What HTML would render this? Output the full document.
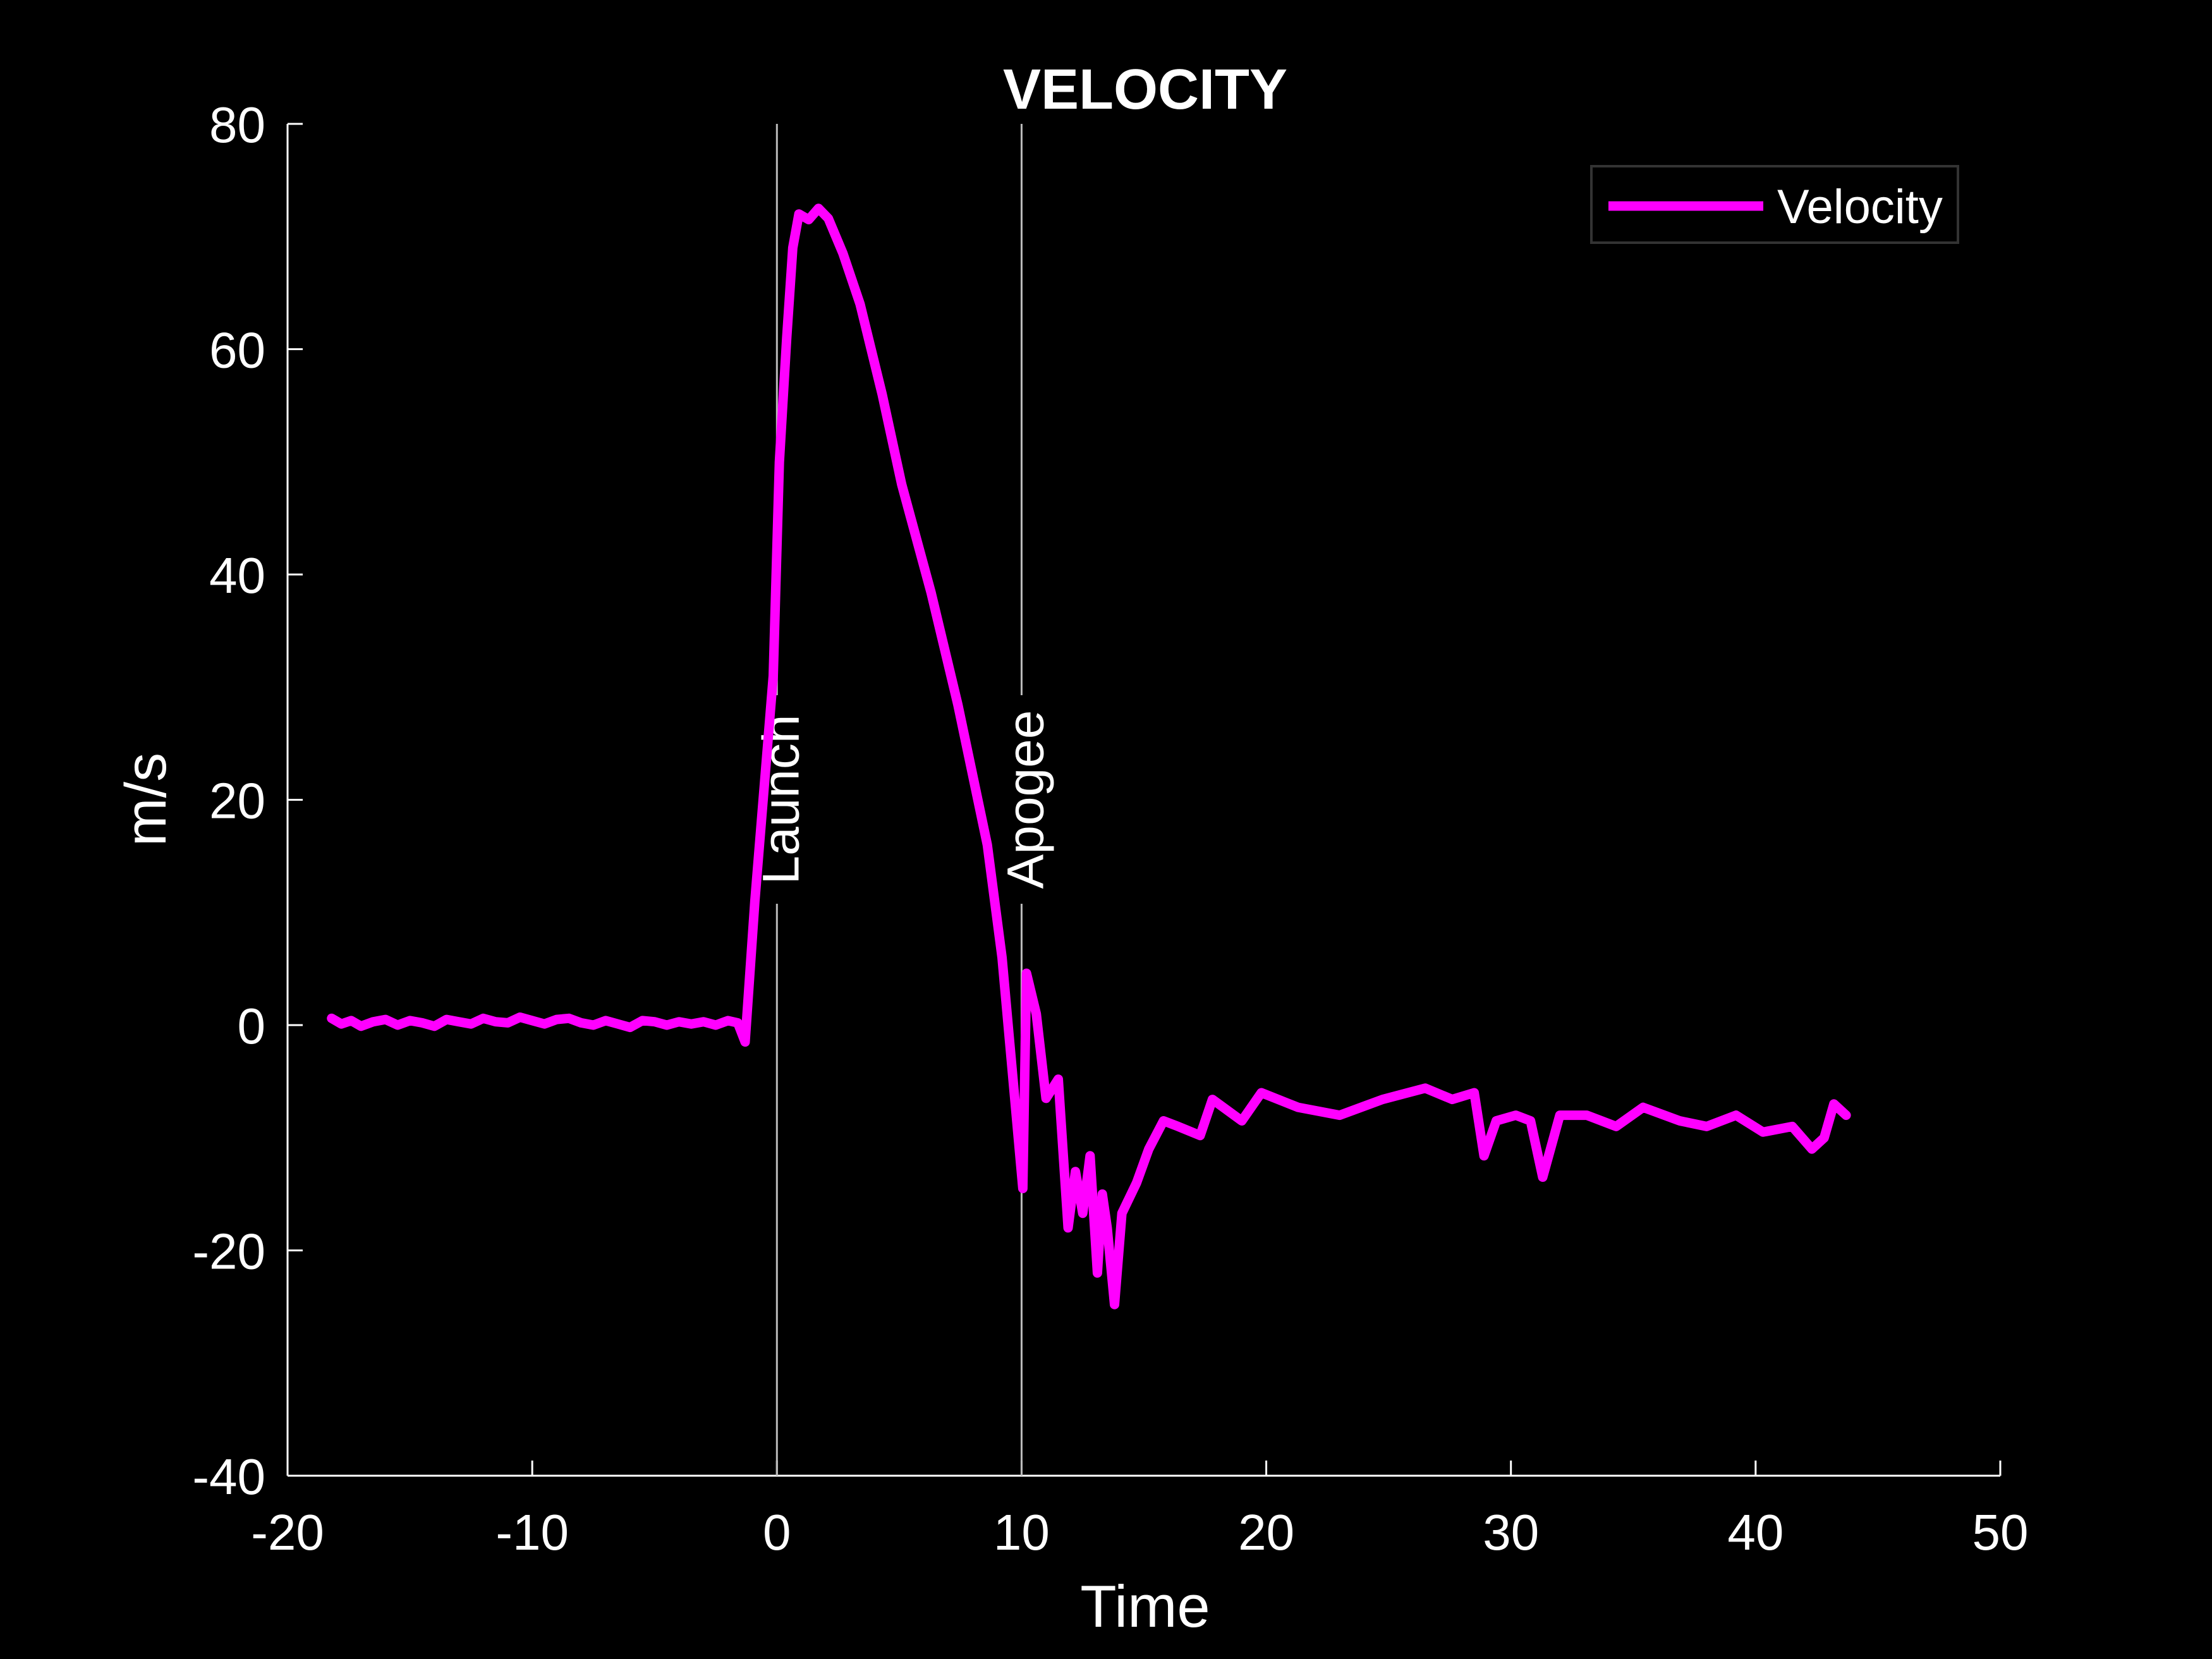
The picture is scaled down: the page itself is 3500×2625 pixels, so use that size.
<!DOCTYPE html>
<html><head><meta charset="utf-8"><style>
html,body{margin:0;padding:0;background:#000;}
svg{display:block;}
text{font-family:"Liberation Sans",sans-serif;fill:#fff;}
</style></head><body>
<svg id="chart" width="3500" height="2625" viewBox="0 0 3500 2625" xmlns="http://www.w3.org/2000/svg">
<rect width="3500" height="2625" fill="#000"/>
<text x="1812" y="172" font-size="90" font-weight="bold" text-anchor="middle">VELOCITY</text>
<g id="axes"></g>
<g id="events"></g>
<g id="series"></g>
<text x="1812" y="2574" font-size="94" text-anchor="middle">Time</text>
<text transform="translate(262,1265) rotate(-90)" font-size="92" text-anchor="middle">m/s</text>
<g>
<rect x="2518" y="263" width="580" height="121" fill="#000" stroke="#333" stroke-width="4"/>
<line x1="2545" y1="326" x2="2790" y2="326" stroke="#ff00ff" stroke-width="15"/>
<text x="2812" y="353" font-size="76">Velocity</text>
</g>
</svg>
<script>
const xTicks=[-20,-10,0,10,20,30,40,50];
const yTicks=[-40,-20,0,20,40,60,80];
const eventTimes=[0,10];
const eventLabels=["Launch","Apogee"];
const times=[-18.2,-17.8,-17.4,-17,-16.5,-16,-15.5,-15,-14.5,-14,-13.5,-13,-12.5,-12,-11.5,-11,-10.5,-10,-9.5,-9,-8.5,-8,-7.5,-7,-6.5,-6,-5.5,-5,-4.5,-4,-3.5,-3,-2.5,-2,-1.6,-1.3,-0.9,-0.15,0.1,0.4,0.65,0.9,1.3,1.7,2.1,2.7,3.4,4.3,5.1,6.3,7.4,8.6,9.2,10.05,10.2,10.6,11,11.5,11.9,12.2,12.5,12.8,13.1,13.3,13.5,13.8,14.1,14.7,15.2,15.8,16.4,17.3,17.8,19,19.8,21.3,23,24.75,26.5,27.6,28.5,28.9,29.4,30.2,30.8,31.3,32,33.1,34.3,35.4,36.9,38,39.2,40.3,41.5,42.3,42.8,43.2,43.7];
const velocities=[0.6,0.1,0.4,-0.1,0.3,0.5,0,0.4,0.2,-0.1,0.5,0.3,0.1,0.6,0.3,0.2,0.7,0.4,0.1,0.5,0.6,0.2,0,0.4,0.1,-0.2,0.4,0.3,0,0.3,0.1,0.3,0,0.4,0.2,-1.5,11,31,50,61,69,72,71.5,72.5,71.6,68.5,64,56,48,38.4,28.4,16,6,-14.5,4.6,1,-6.5,-4.8,-18,-13,-16.7,-11.6,-22,-15,-18,-24.8,-16.7,-14,-11,-8.5,-9,-9.8,-6.6,-8.5,-6,-7.3,-8,-6.6,-5.6,-6.6,-6,-11.6,-8.5,-8,-8.5,-13.5,-8,-8,-9,-7.3,-8.5,-9,-8,-9.5,-9,-11,-10,-7,-8];
const NS="http://www.w3.org/2000/svg";
const L=455,R=3165,T=196,B=2335;
function xs(t){return L+(t-(-20))/70*(R-L);}
function ys(v){return B-(v-(-40))/120*(B-T);}
function mk(tag,attrs,parent){const e=document.createElementNS(NS,tag);for(const k in attrs)e.setAttribute(k,attrs[k]);parent.appendChild(e);return e;}
const ax=document.getElementById('axes');
let e=mk('line',{x1:L,y1:B,x2:R,y2:B,stroke:'#fff','stroke-width':3},ax);


e=mk('line',{x1:L,y1:T,x2:L,y2:B,stroke:'#fff','stroke-width':3},ax);


xTicks.forEach(t=>{
 const x=xs(t);
 let l=mk('line',{x1:x,y1:B,x2:x,y2:B-24,stroke:'#fff','stroke-width':3},ax);
 
 
 let tx=mk('text',{x:x,y:2452,'font-size':80,'text-anchor':'middle'},ax);
 tx.textContent=t;
 
 
});
yTicks.forEach(v=>{
 const y=ys(v);
 let l=mk('line',{x1:L,y1:y,x2:L+24,y2:y,stroke:'#fff','stroke-width':3},ax);
 
 
 let tx=mk('text',{x:420,y:y+29,'font-size':80,'text-anchor':'end'},ax);
 tx.textContent=v;
 
 
});
const ev=document.getElementById('events');
eventTimes.forEach((t,i)=>{
 const x=xs(t);
 let l1=mk('line',{x1:x,y1:T,x2:x,y2:1100,stroke:'#bbb','stroke-width':3},ev);
 
 
 let l2=mk('line',{x1:x,y1:1430,x2:x,y2:B,stroke:'#bbb','stroke-width':3},ev);
 
 
 let tx=mk('text',{transform:`translate(${x+34},1265) rotate(-90)`,'font-size':82,'text-anchor':'middle'},ev);
 tx.textContent=eventLabels[i];
 
 
});
const pts=times.map((t,i)=>xs(t).toFixed(1)+','+ys(velocities[i]).toFixed(1)).join(' ');
const pl=mk('polyline',{points:pts,fill:'none',stroke:'#ff00ff','stroke-width':15,'stroke-linejoin':'round','stroke-linecap':'round'},document.getElementById('series'));


</script>
</body></html>
